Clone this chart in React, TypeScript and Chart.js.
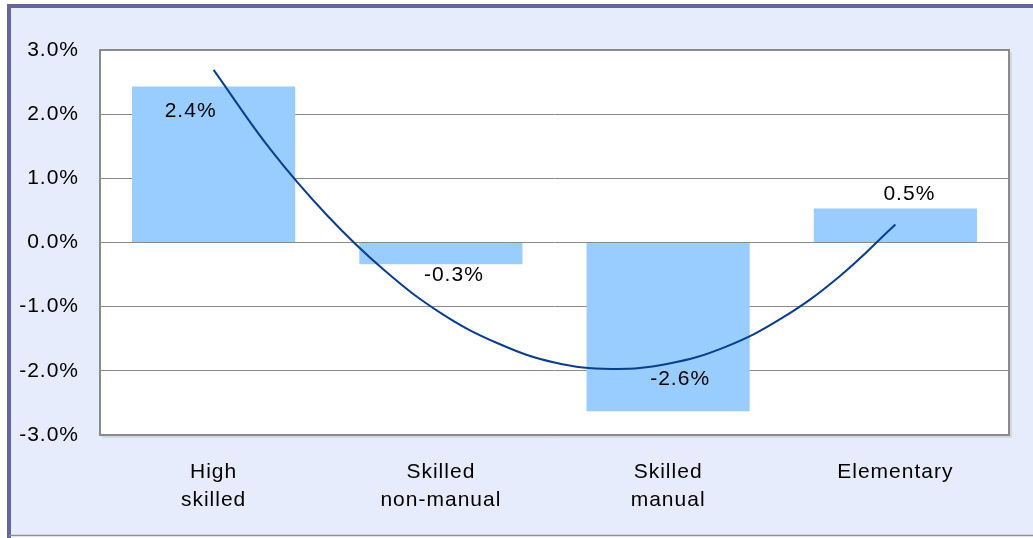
import React, { useEffect, useRef } from "react";
import { Chart, registerables } from "chart.js";

Chart.register(...registerables);

// ---- data ----
const categories: string[][] = [
  ["High", "skilled"],
  ["Skilled", "non-manual"],
  ["Skilled", "manual"],
  ["Elementary"],
];
const changeValues: number[] = [2.43, -0.34, -2.63, 0.53];

// trend curve at quarter-category steps
const trendX: number[] = [1, 1.25, 1.5, 1.75, 2, 2.25, 2.5, 2.75, 3, 3.25, 3.5, 3.75, 4];
const trendValues: number[] = [2.69, 1.45, 0.42, -0.43, -1.1, -1.57, -1.87, -1.97, -1.89, -1.63, -1.18, -0.54, 0.28];

const yMin = -3;
const yMax = 3;
const yStep = 1;

// ---- styles ----
const FONT = "'Liberation Sans', Arial, sans-serif";
const BAR_COLOR = "#99CCFF";
const LINE_COLOR = "#0B3D8F";
const GRID_COLOR = "#8A8A8A";
const FRAME_BG = "#E6ECFB";
// label offset relative to the bar end (px)
const labelOffsets = [
  { dx: -23, dy: 25 },
  { dx: 13, dy: 11 },
  { dx: 12, dy: -32 },
  { dx: 14, dy: -14 },
];

const framePlugin = {
  id: "frame",
  beforeDraw(chart: any) {
    const ctx = chart.ctx;
    const w = chart.width;
    const h = chart.height;
    const ca = chart.chartArea;
    ctx.save();
    ctx.fillStyle = "#FFFFFF";
    ctx.fillRect(0, 0, w, h);
    ctx.fillStyle = FRAME_BG;
    ctx.fillRect(9, 6, w - 9, h - 8);
    ctx.strokeStyle = "#66669A";
    ctx.lineWidth = 4;
    ctx.beginPath();
    ctx.moveTo(7, 6);
    ctx.lineTo(w, 6);
    ctx.moveTo(9, 4);
    ctx.lineTo(9, h);
    ctx.stroke();
    ctx.strokeStyle = "#8C8CAA";
    ctx.lineWidth = 1.5;
    ctx.beginPath();
    ctx.moveTo(9, h - 2.5);
    ctx.lineTo(w, h - 2.5);
    ctx.stroke();
    ctx.fillStyle = "#FFFFFF";
    ctx.fillRect(ca.left, ca.top, ca.right - ca.left, ca.bottom - ca.top);
    ctx.restore();
    (ctx as any).letterSpacing = "1px";
  },
  afterDraw(chart: any) {
    const ctx = chart.ctx;
    const ca = chart.chartArea;
    ctx.save();
    ctx.strokeStyle = "#C4C4C4";
    ctx.lineWidth = 1;
    ctx.beginPath();
    ctx.moveTo(ca.right + 2, ca.top + 2);
    ctx.lineTo(ca.right + 2, ca.bottom + 2);
    ctx.lineTo(ca.left + 2, ca.bottom + 2);
    ctx.stroke();
    ctx.strokeStyle = GRID_COLOR;
    ctx.lineWidth = 2;
    ctx.strokeRect(ca.left, ca.top, ca.right - ca.left, ca.bottom - ca.top);
    ctx.restore();
  },
};

const labelPlugin = {
  id: "barLabels",
  afterDatasetsDraw(chart: any) {
    const ctx = chart.ctx;
    const meta = chart.getDatasetMeta(0);
    ctx.save();
    (ctx as any).letterSpacing = "1px";
    ctx.font = `21px ${FONT}`;
    ctx.fillStyle = "#000000";
    ctx.textAlign = "center";
    ctx.textBaseline = "middle";
    meta.data.forEach((el: any, i: number) => {
      const v = changeValues[i];
      const off = labelOffsets[i];
      ctx.fillText(v.toFixed(1) + "%", el.x + off.dx, el.y + off.dy);
    });
    ctx.restore();
  },
};

export default function App() {
  const canvasRef = useRef<HTMLCanvasElement | null>(null);

  useEffect(() => {
    const canvas = canvasRef.current;
    if (!canvas) return;
    const chart = new Chart(canvas, {
      type: "bar",
      data: {
        labels: categories as any,
        datasets: [
          {
            type: "bar",
            data: changeValues,
            backgroundColor: BAR_COLOR,
            borderWidth: 0,
            categoryPercentage: 1,
            barPercentage: 0.718,
            grouped: false,
            xAxisID: "x",
            yAxisID: "y",
            order: 2,
          } as any,
          {
            type: "line",
            data: trendX.map((x, i) => ({ x, y: trendValues[i] })),
            borderColor: LINE_COLOR,
            borderWidth: 2,
            pointRadius: 0,
            tension: 0.4,
            fill: false,
            xAxisID: "x2",
            yAxisID: "y",
            order: 1,
          } as any,
        ],
      },
      options: {
        responsive: false,
        animation: false,
        events: [],
        layout: { padding: { top: 50, right: 24, left: 0, bottom: 0 } },
        plugins: {
          legend: { display: false },
          tooltip: { enabled: false },
          title: { display: false },
        },
        scales: {
          x: {
            type: "category",
            offset: true,
            grid: { display: false, drawTicks: false },
            border: { display: false },
            ticks: {
              color: "#000000",
              font: { family: FONT, size: 21, lineHeight: "28px" } as any,
              padding: 23,
              maxRotation: 0,
              autoSkip: false,
            },
            afterFit(scale: any) {
              scale.height = 103;
            },
          },
          x2: {
            type: "linear",
            display: false,
            offset: false,
            grid: { offset: false },
            min: 0.5,
            max: 4.5,
          } as any,
          y: {
            min: yMin,
            max: yMax,
            grid: { color: GRID_COLOR, lineWidth: 1, drawTicks: false },
            border: { display: false },
            ticks: {
              stepSize: yStep,
              color: "#000000",
              font: { family: FONT, size: 21 },
              padding: 21,
              callback: (v: any) => Number(v).toFixed(1) + "%",
            },
            afterFit(scale: any) {
              scale.width = 100;
            },
          },
        },
      },
      plugins: [framePlugin, labelPlugin],
    });
    return () => chart.destroy();
  }, []);

  return (
    <div style={{ position: "absolute", left: 0, top: 0, width: 1033, height: 538 }}>
      <canvas ref={canvasRef} width={1033} height={538} style={{ display: "block" }} />
    </div>
  );
}
